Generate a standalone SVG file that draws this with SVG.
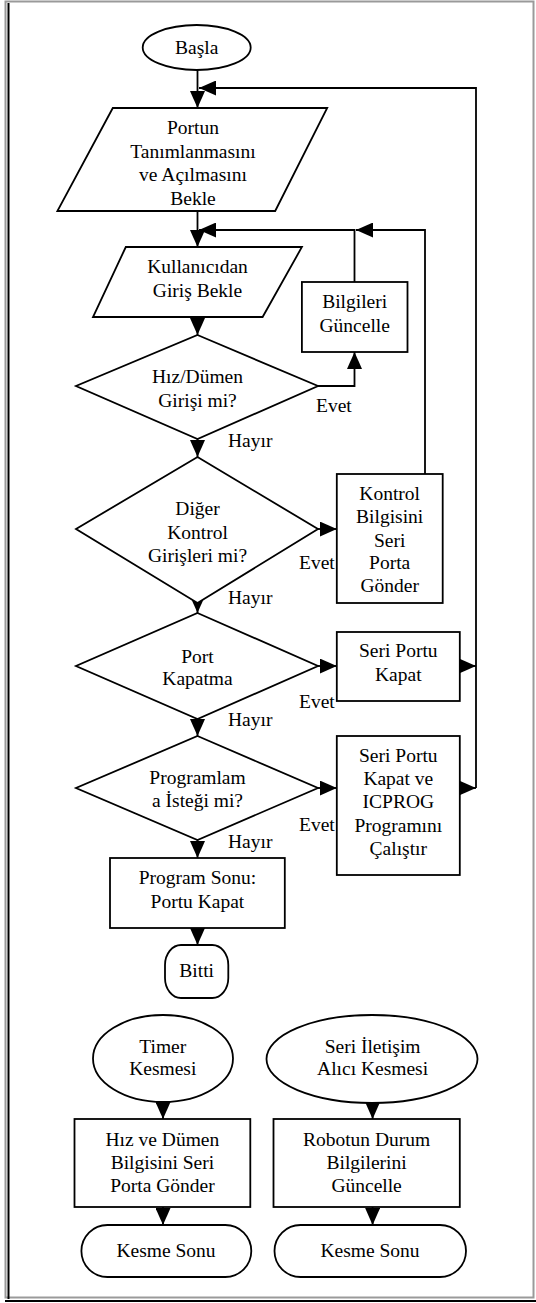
<svg xmlns="http://www.w3.org/2000/svg" width="536" height="1303" viewBox="0 0 536 1303">
<defs>
<style>
.s{fill:#fff;stroke:#000;stroke-width:1.8}
.c{fill:none;stroke:#000;stroke-width:1.8}
.t{text-anchor:middle}
</style>
<marker id="ah" markerUnits="userSpaceOnUse" markerWidth="17" markerHeight="15" refX="17" refY="7.5" orient="auto">
<path d="M0,0 L17,7.5 L0,15 z" fill="#000"/>
</marker>
</defs>
<rect width="536" height="1303" fill="#fff"/>
<g id="frame">
<rect x="5.5" y="1.5" width="528" height="1296" fill="none" stroke="#9a9a9a" stroke-width="2"/>
<line x1="8.5" y1="3" x2="8.5" y2="1299" stroke="#000" stroke-width="2"/>
<line x1="5" y1="1301" x2="536" y2="1301" stroke="#000" stroke-width="2"/>
</g>
<g id="connectors">
<path class="c" d="M197.5,70 V108" marker-end="url(#ah)"/>
<path class="c" d="M476,788 V88 H199" marker-end="url(#ah)"/>
<path class="c" d="M197.5,211 V247" marker-end="url(#ah)"/>
<path class="c" d="M425,474 V230 H356" marker-end="url(#ah)"/>
<path class="c" d="M354.5,282 V230 H199" marker-end="url(#ah)"/>
<path class="c" d="M197.5,317 V335" marker-end="url(#ah)"/>
<path class="c" d="M318,386 H354.5 V352" marker-end="url(#ah)"/>
<path class="c" d="M197.5,439 V457" marker-end="url(#ah)"/>
<path class="c" d="M318,529 H336.8" marker-end="url(#ah)"/>
<path class="c" d="M197.5,603 V613" marker-end="url(#ah)"/>
<path class="c" d="M318,666 H336.8" marker-end="url(#ah)"/>
<path class="c" d="M459.8,666 H476" marker-end="url(#ah)"/>
<path class="c" d="M197.5,719 V736" marker-end="url(#ah)"/>
<path class="c" d="M318,788 H336.8" marker-end="url(#ah)"/>
<path class="c" d="M459.8,788 H476" marker-end="url(#ah)"/>
<path class="c" d="M197.5,840 V858" marker-end="url(#ah)"/>
<path class="c" d="M197.5,928 V945" marker-end="url(#ah)"/>
<path class="c" d="M163,1102 V1119" marker-end="url(#ah)"/>
<path class="c" d="M372.6,1103 V1119" marker-end="url(#ah)"/>
<path class="c" d="M163,1207 V1225" marker-end="url(#ah)"/>
<path class="c" d="M372.6,1207 V1225" marker-end="url(#ah)"/>
</g>
<g font-family="'Liberation Serif', 'Times New Roman', 'DejaVu Serif', serif" font-size="19.5" fill="#000">
<g id="basla">
<ellipse class="s" cx="196.7" cy="47.5" rx="54" ry="22.5"/>
<text class="t" x="196.7" y="54">Başla</text>
</g>
<g id="portBekle">
<polygon class="s" points="112.8,108 327.2,108 275.2,211 57.4,211"/>
<text class="t" x="193" y="134">Portun</text>
<text class="t" x="193" y="157.5">Tanımlanmasını</text>
<text class="t" x="193" y="181">ve Açılmasını</text>
<text class="t" x="193" y="204.5">Bekle</text>
</g>
<g id="girisBekle">
<polygon class="s" points="125.8,247 301.9,247 262.6,317 93,317"/>
<text class="t" x="197.5" y="273">Kullanıcıdan</text>
<text class="t" x="197.5" y="297">Giriş Bekle</text>
</g>
<g id="bilgileri">
<rect class="s" x="301.9" y="282" width="105.6" height="70"/>
<text class="t" x="354.7" y="308">Bilgileri</text>
<text class="t" x="354.7" y="332">Güncelle</text>
</g>
<g id="hizDumen">
<polygon class="s" points="197.5,335 318,386 197.5,439 76,386"/>
<text class="t" x="197.5" y="383">Hız/Dümen</text>
<text class="t" x="197.5" y="406.5">Girişi mi?</text>
<text x="316" y="411.5">Evet</text>
<text x="228" y="446.5">Hayır</text>
</g>
<g id="digerKontrol">
<polygon class="s" points="197.5,457 318,529 197.5,603 76,529"/>
<text class="t" x="197.5" y="515">Diğer</text>
<text class="t" x="197.5" y="538.5">Kontrol</text>
<text class="t" x="197.5" y="561.5">Girişleri mi?</text>
<text x="299" y="569">Evet</text>
<text x="228" y="604">Hayır</text>
</g>
<g id="kontrolGonder">
<rect class="s" x="336.8" y="474" width="105.9" height="129"/>
<text class="t" x="389.7" y="500">Kontrol</text>
<text class="t" x="389.7" y="523">Bilgisini</text>
<text class="t" x="389.7" y="546.5">Seri</text>
<text class="t" x="389.7" y="569">Porta</text>
<text class="t" x="389.7" y="591.5">Gönder</text>
</g>
<g id="portKapatma">
<polygon class="s" points="197.5,613 318,666 197.5,719 76,666"/>
<text class="t" x="197.5" y="662.5">Port</text>
<text class="t" x="197.5" y="685">Kapatma</text>
<text x="299" y="708">Evet</text>
<text x="228" y="726">Hayır</text>
</g>
<g id="seriPortuKapat">
<rect class="s" x="336.8" y="632" width="123" height="69"/>
<text class="t" x="398.3" y="656.5">Seri Portu</text>
<text class="t" x="398.3" y="680.5">Kapat</text>
</g>
<g id="programlama">
<polygon class="s" points="197.5,736 318,788 197.5,840 76,788"/>
<text class="t" x="197.5" y="784">Programlam</text>
<text class="t" x="197.5" y="807">a İsteği mi?</text>
<text x="299" y="830.5">Evet</text>
<text x="228" y="848">Hayır</text>
</g>
<g id="icprog">
<rect class="s" x="336.8" y="736" width="123" height="139"/>
<text class="t" x="398.3" y="761.5">Seri Portu</text>
<text class="t" x="398.3" y="785">Kapat ve</text>
<text class="t" x="398.3" y="808">ICPROG</text>
<text class="t" x="398.3" y="831.5">Programını</text>
<text class="t" x="398.3" y="855">Çalıştır</text>
</g>
<g id="programSonu">
<rect class="s" x="110" y="858" width="174.8" height="70"/>
<text class="t" x="197.4" y="884">Program Sonu:</text>
<text class="t" x="197.4" y="908">Portu Kapat</text>
</g>
<g id="bitti">
<rect class="s" x="165" y="945" width="63.3" height="53" rx="16" ry="20"/>
<text class="t" x="196.7" y="977">Bitti</text>
</g>
<g id="timer">
<ellipse class="s" cx="163" cy="1058.5" rx="70" ry="43.5"/>
<text class="t" x="162.8" y="1053">Timer</text>
<text class="t" x="162.8" y="1075">Kesmesi</text>
</g>
<g id="seriIletisim">
<ellipse class="s" cx="372" cy="1059" rx="105.5" ry="44"/>
<text class="t" x="372.6" y="1053">Seri İletişim</text>
<text class="t" x="372.6" y="1075">Alıcı Kesmesi</text>
</g>
<g id="hizGonder">
<rect class="s" x="74.5" y="1119" width="175.8" height="88"/>
<text class="t" x="162.4" y="1146">Hız ve Dümen</text>
<text class="t" x="162.4" y="1168.5">Bilgisini Seri</text>
<text class="t" x="162.4" y="1191.5">Porta Gönder</text>
</g>
<g id="robotDurum">
<rect class="s" x="273.5" y="1119" width="186.3" height="88"/>
<text class="t" x="366.6" y="1146">Robotun Durum</text>
<text class="t" x="366.6" y="1168.5">Bilgilerini</text>
<text class="t" x="366.6" y="1191.5">Güncelle</text>
</g>
<g id="kesmeSonu1">
<rect class="s" x="81.4" y="1225" width="169.9" height="52" rx="26" ry="26"/>
<text class="t" x="166" y="1257">Kesme Sonu</text>
</g>
<g id="kesmeSonu2">
<rect class="s" x="274.5" y="1225" width="191.5" height="52" rx="26" ry="26"/>
<text class="t" x="370" y="1257">Kesme Sonu</text>
</g>
</g>
</svg>
